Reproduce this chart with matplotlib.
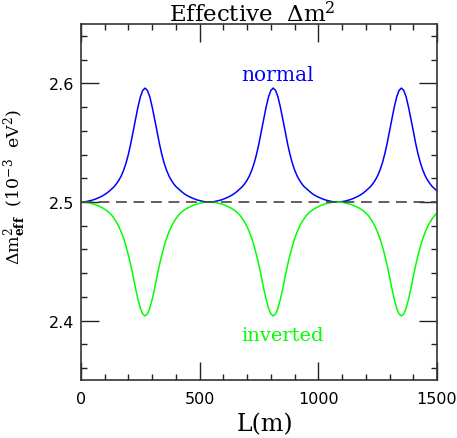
import numpy as np
import matplotlib
matplotlib.use("Agg")
import matplotlib.pyplot as plt
from matplotlib.ticker import MultipleLocator

# Baseline distance (m), sampled every 10 m
L = np.arange(0, 1501, 10)

normal = [
    2.5, 2.5001, 2.5003, 2.5007, 2.5012, 2.5017, 2.5024, 2.5032, 2.5041, 2.5051, 2.5063, 2.5077, 2.5093, 2.5112,
    2.513, 2.5155, 2.5185, 2.5222, 2.527, 2.533, 2.5405, 2.5495, 2.56, 2.57, 2.58, 2.5885, 2.594, 2.596,
    2.594, 2.5885, 2.58, 2.57, 2.56, 2.5495, 2.5405, 2.533, 2.527, 2.5222, 2.5185, 2.5155, 2.513, 2.5112,
    2.5093, 2.5077, 2.5063, 2.5051, 2.5041, 2.5032, 2.5024, 2.5017, 2.5012, 2.5007, 2.5003, 2.5001, 2.5,
    2.5001, 2.5003, 2.5007, 2.5012, 2.5017, 2.5024, 2.5032, 2.5041, 2.5051, 2.5063, 2.5077, 2.5093, 2.5112,
    2.513, 2.5155, 2.5185, 2.5222, 2.527, 2.533, 2.5405, 2.5495, 2.56, 2.57, 2.58, 2.5885, 2.594, 2.596,
    2.594, 2.5885, 2.58, 2.57, 2.56, 2.5495, 2.5405, 2.533, 2.527, 2.5222, 2.5185, 2.5155, 2.513, 2.5112,
    2.5093, 2.5077, 2.5063, 2.5051, 2.5041, 2.5032, 2.5024, 2.5017, 2.5012, 2.5007, 2.5003, 2.5001, 2.5,
    2.5001, 2.5003, 2.5007, 2.5012, 2.5017, 2.5024, 2.5032, 2.5041, 2.5051, 2.5063, 2.5077, 2.5093, 2.5112,
    2.513, 2.5155, 2.5185, 2.5222, 2.527, 2.533, 2.5405, 2.5495, 2.56, 2.57, 2.58, 2.5885, 2.594, 2.596,
    2.594, 2.5885, 2.58, 2.57, 2.56, 2.5495, 2.5405, 2.533, 2.527, 2.5222, 2.5185, 2.5155, 2.513, 2.5112,
    2.5093,
]

inverted = [
    2.5, 2.4999, 2.4997, 2.4994, 2.4989, 2.4984, 2.4978, 2.497, 2.4961, 2.4951, 2.4939, 2.4925, 2.4908, 2.4887,
    2.486, 2.4828, 2.479, 2.4745, 2.469, 2.4625, 2.455, 2.4465, 2.437, 2.427, 2.418, 2.4105, 2.4057, 2.404,
    2.4057, 2.4105, 2.418, 2.427, 2.437, 2.4465, 2.455, 2.4625, 2.469, 2.4745, 2.479, 2.4828, 2.486, 2.4887,
    2.4908, 2.4925, 2.4939, 2.4951, 2.4961, 2.497, 2.4978, 2.4984, 2.4989, 2.4994, 2.4997, 2.4999, 2.5,
    2.4999, 2.4997, 2.4994, 2.4989, 2.4984, 2.4978, 2.497, 2.4961, 2.4951, 2.4939, 2.4925, 2.4908, 2.4887,
    2.486, 2.4828, 2.479, 2.4745, 2.469, 2.4625, 2.455, 2.4465, 2.437, 2.427, 2.418, 2.4105, 2.4057, 2.404,
    2.4057, 2.4105, 2.418, 2.427, 2.437, 2.4465, 2.455, 2.4625, 2.469, 2.4745, 2.479, 2.4828, 2.486, 2.4887,
    2.4908, 2.4925, 2.4939, 2.4951, 2.4961, 2.497, 2.4978, 2.4984, 2.4989, 2.4994, 2.4997, 2.4999, 2.5,
    2.4999, 2.4997, 2.4994, 2.4989, 2.4984, 2.4978, 2.497, 2.4961, 2.4951, 2.4939, 2.4925, 2.4908, 2.4887,
    2.486, 2.4828, 2.479, 2.4745, 2.469, 2.4625, 2.455, 2.4465, 2.437, 2.427, 2.418, 2.4105, 2.4057, 2.404,
    2.4057, 2.4105, 2.418, 2.427, 2.437, 2.4465, 2.455, 2.4625, 2.469, 2.4745, 2.479, 2.4828, 2.486, 2.4887,
    2.4908,
]

reference_level = 2.5
x_ticks = [0, 500, 1000, 1500]
y_ticks = [2.4, 2.5, 2.6]

plt.rcParams['mathtext.fontset'] = 'dejavuserif'

fig = plt.figure(figsize=(4.57, 4.39), dpi=100)
ax = fig.add_axes([81/457, 1 - 381/439, 356/457, 356/439])

ax.plot(L, normal, color='#0000ff', lw=1.1)
ax.plot(L, inverted, color='#00ff00', lw=1.1)
ax.axhline(reference_level, color='#444444', lw=1.2, dashes=(6.5, 4))

ax.set_xlim(0, 1500)
ax.set_ylim(2.35, 2.65)
ax.set_xticks(x_ticks)
ax.set_yticks(y_ticks)
ax.set_yticklabels(['2.4', '2.5', '2.6'])
ax.xaxis.set_minor_locator(MultipleLocator(100))
ax.yaxis.set_minor_locator(MultipleLocator(0.02))
ax.tick_params(which='both', direction='in', top=True, right=True, color='#222222', width=1.0)
ax.tick_params(which='major', length=13)
ax.tick_params(which='minor', length=4.5)
ax.tick_params(axis='x', which='major', pad=8, labelsize=11.5)
ax.tick_params(axis='y', which='major', pad=4.5, labelsize=11.5)
for s in ax.spines.values():
    s.set_linewidth(1.2)
    s.set_color('#333333')

ax.text(826, 2.603, 'normal', color='#0000ff', family='DejaVu Serif', fontsize=14.5,
        ha='center', va='baseline')
ax.text(849, 2.384, 'inverted', color='#00ff00', family='DejaVu Serif', fontsize=14,
        ha='center', va='baseline')

fig.text(252.5/457, 1 - 22.7/439, 'Effective  $\\Delta$m$^2$', family='DejaVu Serif',
         fontsize=16.5, ha='center', va='baseline')
fig.text(265/457, 1 - 431/439, 'L(m)', family='DejaVu Serif', fontsize=17, ha='center', va='baseline')
fig.text(15/457, 1 - 187.5/439, '$\\Delta$m$^2_{\\mathbf{eff}}$  (10$^{-3}$  eV$^2$)', family='DejaVu Serif',
         fontsize=12.5, rotation=90, ha='center', va='center')

fig.savefig('out.png', dpi=100)
